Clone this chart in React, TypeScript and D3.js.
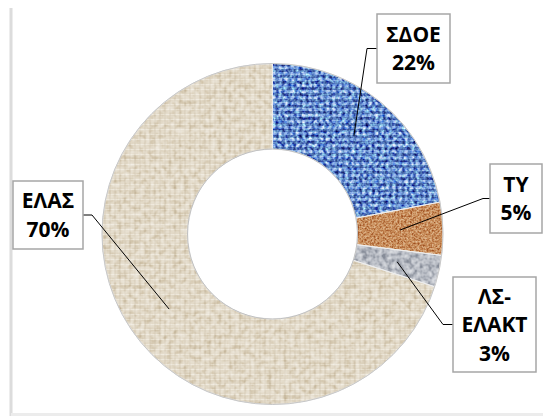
// @ts-nocheck
import React from "react";
import * as d3 from "d3";

// slice order: clockwise from 12 o'clock
const categories = ["ΣΔΟΕ", "ΤΥ", "ΛΣ-ΕΛΑΚΤ", "ΕΛΑΣ"];
const shares = [22, 5, 3, 70];
const labelNameLines = [["ΣΔΟΕ"], ["ΤΥ"], ["ΛΣ-", "ΕΛΑΚΤ"], ["ΕΛΑΣ"]];

// label boxes (layout only)
const labelBoxes = [
  { x: 377, y: 14, w: 73, h: 69, side: "left", elbow: 367 },
  { x: 490, y: 164, w: 52, h: 69, side: "left", elbow: 483 },
  { x: 453, y: 277, w: 83, h: 95, side: "left", elbow: 443 },
  { x: 13, y: 181, w: 70, h: 68, side: "right", elbow: 92 },
];

const fills = ["url(#pBlue)", "url(#pOrange)", "url(#pGrey)", "url(#pLinen)"];
const filters = ["url(#fBlue)", "url(#fOrange)", "url(#fGrey)", "url(#fLinen)"];

const W = 543;
const H = 416;
const cx = 272.5;
const cy = 234;
const outerR = 170.5;
const innerR = 85;

const Grain = ({ id, freq, k, seed, mode = "overlay", octaves = 2 }) => {
  const b = 0.5 - 0.5 * k;
  return (
    <filter id={id} x="0" y="0" width="1" height="1" colorInterpolationFilters="sRGB">
      <feTurbulence type="fractalNoise" baseFrequency={freq} numOctaves={octaves} seed={seed} result="n" />
      <feColorMatrix
        in="n"
        type="matrix"
        values={`${k} 0 0 0 ${b}  ${k} 0 0 0 ${b}  ${k} 0 0 0 ${b}  0 0 0 0 1`}
        result="g"
      />
      <feBlend in="g" in2="SourceGraphic" mode={mode} result="bl" />
      <feComposite in="bl" in2="SourceAlpha" operator="in" />
    </filter>
  );
};

export default function App() {
  const pie = d3.pie().sort(null).value((d) => d);
  const arcs = pie(shares);
  const arc = d3.arc().innerRadius(innerR).outerRadius(outerR);
  const font = "'Open Sans', 'DejaVu Sans', sans-serif";
  const lh = 28.5;

  return (
    <svg width={W} height={H} style={{ position: "absolute", left: 0, top: 0, background: "#fff" }}>
      <defs>
        <pattern id="pLinen" width="5" height="5" patternUnits="userSpaceOnUse">
          <rect width="5" height="5" fill="#e2d9c7" />
          <rect width="5" height="1" fill="#ede7da" />
          <rect x="2" width="1" height="5" fill="#cdc2aa" opacity="0.6" />
        </pattern>
        <pattern id="pBlue" width="6" height="6" patternUnits="userSpaceOnUse">
          <rect width="6" height="6" fill="#5f86c8" />
          <rect width="3" height="3" fill="#98b9ee" />
          <rect x="3" y="3" width="3" height="3" fill="#4668a8" />
        </pattern>
        <pattern id="pOrange" width="4" height="4" patternUnits="userSpaceOnUse">
          <rect width="4" height="4" fill="#c98e5b" />
        </pattern>
        <pattern id="pGrey" width="4" height="4" patternUnits="userSpaceOnUse">
          <rect width="4" height="4" fill="#b9bdc5" />
        </pattern>
        <Grain id="fLinen" freq="0.18 0.18" k={1.1} seed={4} mode="soft-light" />
        <Grain id="fBlue" freq="0.3" k={1.5} seed={7} />
        <Grain id="fOrange" freq="0.55" k={1.7} seed={2} mode="soft-light" />
        <Grain id="fGrey" freq="0.2" k={1.9} seed={9} mode="soft-light" />
      </defs>

      {/* chart area edges */}
      <line x1={11} x2={11} y1={8} y2={H} stroke="#dcdcdc" strokeWidth={3} />
      <line x1={11} x2={W} y1={414.5} y2={414.5} stroke="#ececec" strokeWidth={3} />

      <g transform={`translate(${cx},${cy})`}>
        {arcs.map((a, i) => (
          <path key={categories[i]} d={arc(a)} fill={fills[i]} filter={filters[i]} />
        ))}
        {arcs.map((a, i) => (
          <path key={"s" + i} d={arc(a)} fill="none" stroke="#eeeeee" strokeWidth={1} />
        ))}
        <circle r={outerR} fill="none" stroke="#c3c3c3" strokeWidth={0.9} />
        <circle r={innerR} fill="none" stroke="#bcbcbc" strokeWidth={0.9} />
      </g>

      {arcs.map((a, i) => {
        const [px, py] = arc.centroid(a);
        const bx = labelBoxes[i];
        const my = bx.y + bx.h / 2;
        const ex = bx.side === "left" ? bx.x : bx.x + bx.w;
        const lines = [...labelNameLines[i], `${shares[i]}%`];
        const first = my - ((lines.length - 1) * lh) / 2 + 7.5;
        return (
          <g key={"l" + i}>
            <polyline
              points={`${ex},${my} ${bx.elbow},${my} ${cx + px},${cy + py}`}
              fill="none"
              stroke="#000"
              strokeWidth={1}
            />
            <rect x={bx.x} y={bx.y} width={bx.w} height={bx.h} fill="#fff" stroke="#a6a6a6" strokeWidth={1.5} />
            {lines.map((t, j) => (
              <text
                key={j}
                x={bx.x + bx.w / 2}
                y={first + j * lh}
                textAnchor="middle"
                fontFamily={font}
                fontWeight={700}
                fontSize={21}
                fill="#000"
              >
                {t}
              </text>
            ))}
          </g>
        );
      })}
    </svg>
  );
}
